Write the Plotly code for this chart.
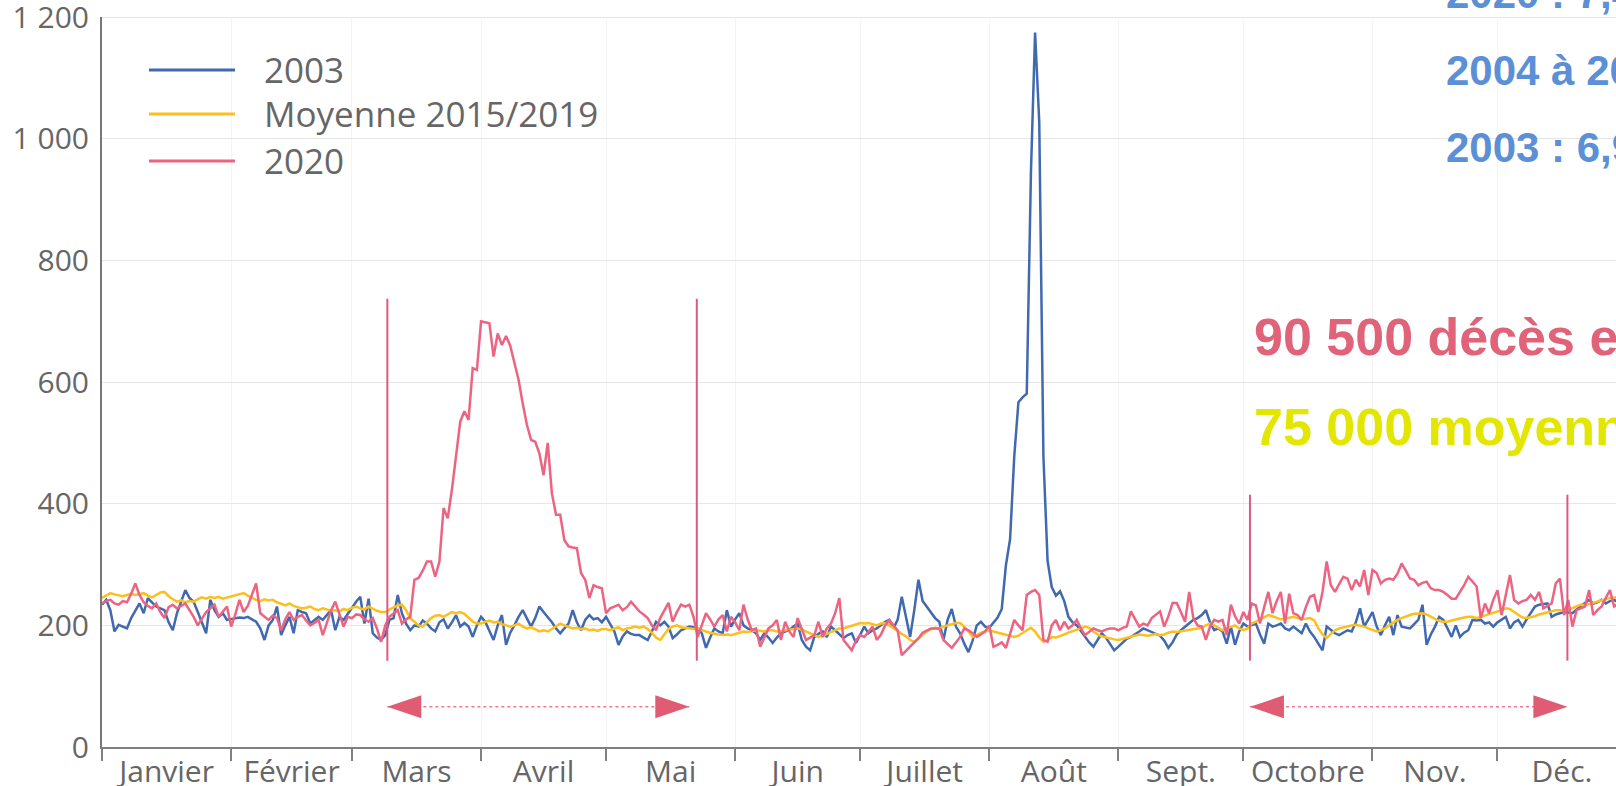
import plotly.graph_objects as go
import pandas as pd

# ---------------- data ----------------
MONTHS = ["Janvier", "Février", "Mars", "Avril", "Mai", "Juin",
          "Juillet", "Août", "Sept.", "Octobre", "Nov.", "Déc."]
SERIES_NAMES = ["2003", "Moyenne 2015/2019", "2020"]

# daily deaths, 2003 (by calendar month)
deaths_2003 = {
    1: [234, 242, 225, 190, 201, 198, 195, 212, 225, 236, 220, 245, 238, 231, 228, 225, 205, 192, 220, 240, 258, 245, 239, 222, 205, 187, 242, 225, 214, 220, 209],
    2: [210, 212, 213, 212, 214, 210, 206, 195, 176, 200, 209, 231, 184, 200, 214, 187, 225, 222, 220, 203, 208, 214, 209, 218, 225, 192, 214, 209],
    3: [230, 239, 247, 203, 244, 187, 180, 176, 184, 209, 212, 250, 220, 203, 192, 200, 198, 208, 203, 195, 190, 205, 210, 195, 205, 217, 198, 204, 198, 181, 200],
    4: [214, 206, 190, 176, 200, 217, 168, 188, 200, 214, 225, 210, 198, 212, 231, 222, 214, 205, 195, 187, 195, 203, 225, 205, 192, 209, 217, 210, 212, 205],
    5: [214, 203, 190, 168, 182, 190, 186, 184, 184, 180, 176, 190, 206, 200, 206, 198, 179, 185, 192, 195, 198, 197, 195, 187, 163, 180, 195, 190, 187, 225, 198],
    6: [210, 220, 200, 195, 192, 187, 176, 187, 180, 171, 180, 187, 190, 192, 198, 203, 176, 165, 159, 181, 186, 190, 181, 198, 192, 185, 179, 184, 187, 171],
    7: [185, 198, 187, 192, 195, 200, 206, 209, 195, 209, 247, 214, 181, 225, 275, 240, 231, 220, 212, 206, 176, 209, 227, 198, 187, 170, 156, 175, 200, 206, 198],
    8: [196, 205, 213, 227, 299, 342, 478, 567, 575, 581, 943, 1175, 1028, 478, 306, 263, 249, 256, 240, 214, 205, 200, 190, 182, 172, 165, 175, 187, 180, 170, 159],
    9: [165, 172, 178, 181, 185, 190, 195, 192, 190, 187, 183, 175, 163, 172, 185, 192, 198, 203, 209, 212, 217, 225, 205, 192, 195, 190, 170, 198, 168, 190],
    10: [203, 198, 200, 203, 185, 170, 203, 198, 200, 203, 195, 192, 198, 192, 187, 203, 190, 181, 170, 159, 198, 192, 187, 184, 188, 192, 190, 205, 228, 198, 210],
    11: [222, 198, 184, 200, 214, 184, 217, 198, 196, 195, 202, 209, 234, 168, 185, 198, 214, 209, 195, 181, 200, 181, 188, 192, 209, 208, 209, 203, 205, 198],
    12: [205, 209, 214, 195, 205, 209, 198, 210, 220, 231, 234, 235, 236, 214, 218, 220, 222, 221, 220, 226, 231, 236, 242, 236, 238, 242, 236, 240, 242, 238, 240],
}

# daily deaths, mean 2015-2019
avg_2015_2019 = {
    1: [245, 249, 253, 251, 250, 248, 250, 252, 250, 251, 253, 249, 246, 250, 254, 255, 248, 243, 239, 241, 238, 240, 239, 243, 246, 244, 247, 245, 247, 244, 246],
    2: [248, 250, 252, 253, 249, 245, 242, 240, 243, 241, 242, 238, 235, 233, 236, 232, 230, 228, 229, 231, 227, 225, 228, 226, 224, 225, 223, 227, 225],
    3: [229, 231, 228, 226, 231, 227, 224, 222, 222, 226, 229, 233, 234, 225, 212, 206, 200, 198, 205, 212, 216, 217, 214, 218, 222, 220, 222, 219, 212, 206, 203],
    4: [203, 206, 208, 205, 206, 202, 200, 198, 200, 203, 198, 195, 197, 194, 190, 192, 190, 194, 198, 203, 200, 197, 195, 196, 194, 195, 192, 193, 191, 194],
    5: [194, 192, 195, 197, 192, 195, 196, 198, 196, 198, 194, 188, 180, 176, 185, 194, 198, 200, 197, 196, 195, 194, 195, 192, 190, 188, 186, 185, 184, 185, 184],
    6: [186, 188, 190, 189, 190, 192, 191, 190, 192, 192, 190, 191, 193, 194, 195, 195, 193, 190, 188, 184, 181, 183, 186, 190, 192, 195, 195, 197, 200, 202],
    7: [204, 203, 204, 202, 200, 203, 204, 200, 195, 190, 186, 182, 176, 173, 178, 185, 190, 194, 196, 195, 198, 200, 202, 204, 204, 198, 190, 181, 184, 188, 190],
    8: [192, 190, 188, 186, 184, 182, 181, 183, 188, 192, 196, 190, 180, 173, 176, 181, 180, 182, 185, 188, 190, 193, 195, 198, 196, 190, 185, 182, 180, 178, 177],
    9: [176, 178, 180, 182, 184, 185, 184, 183, 184, 186, 184, 185, 188, 190, 189, 190, 192, 192, 194, 195, 196, 200, 203, 200, 196, 192, 195, 198, 200, 195],
    10: [192, 195, 203, 206, 210, 214, 217, 215, 212, 210, 211, 212, 214, 212, 210, 211, 212, 208, 195, 185, 179, 186, 192, 195, 197, 198, 200, 201, 200, 198, 195],
    11: [192, 190, 192, 195, 200, 205, 209, 212, 215, 217, 219, 220, 220, 218, 214, 210, 207, 206, 206, 208, 210, 212, 213, 214, 214, 212, 214, 216, 218, 220],
    12: [222, 225, 228, 227, 222, 217, 213, 212, 213, 215, 218, 220, 222, 224, 225, 225, 224, 226, 229, 232, 234, 233, 235, 238, 240, 242, 244, 245, 246, 246, 245],
}

# daily deaths, 2020
deaths_2020 = {
    1: [236, 240, 242, 236, 234, 240, 238, 252, 269, 250, 238, 232, 228, 236, 222, 212, 230, 234, 228, 232, 236, 225, 214, 200, 210, 222, 228, 234, 214, 222, 231],
    2: [198, 218, 242, 222, 232, 250, 269, 220, 214, 209, 216, 212, 192, 210, 222, 209, 214, 217, 208, 200, 204, 209, 184, 205, 225, 239, 218, 198, 214],
    3: [212, 218, 217, 210, 206, 212, 195, 173, 200, 214, 220, 225, 203, 210, 214, 275, 278, 290, 305, 305, 280, 305, 393, 376, 423, 480, 535, 552, 538, 623, 620],
    4: [700, 699, 697, 642, 680, 661, 676, 660, 630, 604, 565, 530, 505, 502, 483, 447, 500, 417, 382, 382, 340, 330, 328, 327, 286, 275, 245, 266, 263, 261],
    5: [220, 228, 231, 234, 225, 230, 239, 230, 223, 218, 212, 200, 192, 212, 225, 237, 206, 222, 234, 231, 234, 214, 181, 200, 220, 210, 198, 210, 217, 190, 214],
    6: [205, 192, 234, 210, 192, 195, 165, 180, 195, 200, 209, 176, 206, 190, 181, 212, 195, 176, 180, 184, 206, 181, 195, 203, 220, 245, 176, 168, 159, 175],
    7: [184, 181, 190, 198, 176, 185, 200, 209, 200, 192, 151, 158, 165, 172, 179, 188, 192, 195, 195, 195, 176, 170, 163, 172, 181, 195, 192, 187, 181, 185, 190],
    8: [200, 165, 168, 172, 163, 185, 209, 200, 192, 250, 255, 258, 250, 176, 173, 200, 209, 192, 206, 195, 200, 209, 195, 184, 190, 195, 192, 190, 193, 195, 195],
    9: [192, 196, 198, 223, 210, 198, 203, 200, 212, 218, 223, 198, 215, 237, 237, 222, 206, 255, 212, 200, 198, 176, 198, 209, 206, 209, 184, 234, 215, 203],
    10: [222, 209, 236, 233, 203, 230, 255, 220, 240, 255, 203, 252, 220, 217, 209, 230, 247, 250, 222, 255, 305, 266, 255, 268, 280, 277, 258, 275, 264, 291, 250],
    11: [291, 286, 269, 275, 277, 275, 285, 302, 290, 277, 275, 266, 270, 272, 261, 258, 258, 255, 250, 244, 244, 255, 266, 280, 272, 264, 212, 236, 220, 242],
    12: [258, 217, 250, 283, 242, 236, 240, 242, 250, 242, 255, 228, 232, 236, 269, 277, 217, 242, 198, 225, 228, 231, 258, 217, 225, 231, 245, 258, 231, 235, 240],
}

# lockdown markers (date, top value) and arrow periods
marker_lines = [("2020-03-09 12:00", 737), ("2020-05-22 19:00", 737),
                ("2020-10-02 14:00", 415), ("2020-12-17 19:00", 415)]
marker_bottom = 142
arrow_periods = [("2020-03-09 12:00", "2020-05-21 00:00"),
                 ("2020-10-02 14:00", "2020-12-17 19:00")]
arrow_level = 66

rate_notes = ["2020 : 7,4 ‰", "2004 à 2019 : 6,3 ‰", "2003 : 6,9 ‰"]
total_notes = ["90 500 décès en 2020", "75 000 moyenne 2015/2019"]
Y_TICKS = [0, 200, 400, 600, 800, 1000, 1200]

# ---------------- styling ----------------
COLORS = ["#4169b0", "#fcbf1e", "#ec6482"]
W, H = 1616, 786
ML, MR, MT, MB = 102, 0, 17, 39
PW, PH = W - ML - MR, H - MT - MB
GRAY = "#666666"


def px_x(px):
    return (px - ML) / PW


def px_y(py):
    return (H - MB - py) / PH


def month_series(d):
    xs, ys = [], []
    for m in range(1, 13):
        for i, v in enumerate(d[m]):
            xs.append(f"2020-{m:02d}-{i + 1:02d}")
            ys.append(v)
    return xs, ys


fig = go.Figure()
for name, data, col in zip(SERIES_NAMES, [deaths_2003, avg_2015_2019, deaths_2020], COLORS):
    xs, ys = month_series(data)
    fig.add_trace(go.Scatter(x=xs, y=ys, mode="lines", name=name,
                             line=dict(color=col, width=2.5), showlegend=False))

# month ticks
starts = pd.date_range("2020-01-01", periods=13, freq="MS")
mids = [starts[i] + (starts[i + 1] - starts[i]) / 2 for i in range(12)]

shapes = []
# top gridline (at the edge of the plot area)
shapes.append(dict(type="line", xref="paper", yref="y", x0=0, x1=1, y0=Y_TICKS[-1], y1=Y_TICKS[-1],
                   line=dict(color="#e6e6e6", width=1.5), layer="below"))
for d, top in marker_lines:
    shapes.append(dict(type="line", xref="x", yref="y", x0=d, x1=d, y0=marker_bottom, y1=top,
                       line=dict(color="#dc5a82", width=2), layer="above"))
for a, b in arrow_periods:
    shapes.append(dict(type="line", xref="x", yref="y", x0=a, x1=b, y0=arrow_level, y1=arrow_level,
                       line=dict(color="#f07a92", width=1.5, dash="dot"), layer="above"))
    shapes.append(dict(type="path", xref="x", yref="y", xsizemode="pixel", ysizemode="pixel",
                       xanchor=a, yanchor=arrow_level, path="M0,0 L34,11.5 L34,-11.5 Z",
                       fillcolor="#e05c72", line=dict(width=0), layer="above"))
    shapes.append(dict(type="path", xref="x", yref="y", xsizemode="pixel", ysizemode="pixel",
                       xanchor=b, yanchor=arrow_level, path="M0,0 L-34,11.5 L-34,-11.5 Z",
                       fillcolor="#e05c72", line=dict(width=0), layer="above"))

annotations = []
# manual legend
leg_y = [70, 114, 161]
for name, col, yy in zip(SERIES_NAMES, COLORS, leg_y):
    shapes.append(dict(type="line", xref="paper", yref="paper", x0=px_x(149), x1=px_x(235),
                       y0=px_y(yy), y1=px_y(yy), line=dict(color=col, width=3)))
    annotations.append(dict(xref="paper", yref="paper", x=px_x(262), y=px_y(yy),
                            xanchor="left", yanchor="middle", showarrow=False, text=name,
                            font=dict(family="Open Sans", size=35, color=GRAY)))

# blue rate notes (baselines 8, 85, 162)
for txt, base in zip(rate_notes, [8, 85, 162]):
    annotations.append(dict(xref="paper", yref="paper", x=px_x(1444), y=px_y(base - 0.3465 * 42),
                            xanchor="left", yanchor="middle", showarrow=False, text=txt,
                            font=dict(family="Liberation Sans", size=42, color="#5b8fd6", weight=700)))
# totals
for txt, base, col in zip(total_notes, [355, 445], ["#e0637a", "#e2e600"]):
    annotations.append(dict(xref="paper", yref="paper", x=px_x(1252), y=px_y(base - 0.3465 * 52),
                            xanchor="left", yanchor="middle", showarrow=False, text=txt,
                            font=dict(family="Liberation Sans", size=52, color=col, weight=700)))

fig.update_layout(
    width=W, height=H, margin=dict(l=ML, r=MR, t=MT, b=MB, pad=0, autoexpand=False),
    paper_bgcolor="white", plot_bgcolor="white",
    separators=", ", hovermode=False, showlegend=False,
    shapes=shapes, annotations=annotations,
    xaxis=dict(type="date", range=["2020-01-01", "2020-12-29 11:00"], automargin=False,
               tickmode="array", tickvals=mids, ticktext=MONTHS, ticks="",
               tickfont=dict(family="Open Sans", size=30, color=GRAY),
               ticklabelstandoff=-3, ticklabeloverflow="allow",
               showgrid=False, zeroline=False,
               showline=True, linecolor="#808080", linewidth=2,
               minor=dict(tickmode="array", tickvals=list(starts[:12]), ticks="outside",
                          ticklen=12, tickwidth=2, tickcolor="#808080",
                          showgrid=True, gridcolor="#f4f4f4", gridwidth=1)),
    yaxis=dict(range=[0, 1200.5], tickmode="array", tickvals=Y_TICKS,
               tickformat=",d", automargin=False, ticklabeloverflow="allow",
               tickfont=dict(family="Open Sans", size=30, color=GRAY),
               showgrid=True, gridcolor="#e6e6e6", gridwidth=1, zeroline=False,
               showline=True, linecolor="#777777", linewidth=2, ticks="",
               ticklabelstandoff=5),
)

fig.write_html("out.html", config={"displayModeBar": False},
               post_script="document.body.style.margin='0';document.body.style.overflow='hidden';")
